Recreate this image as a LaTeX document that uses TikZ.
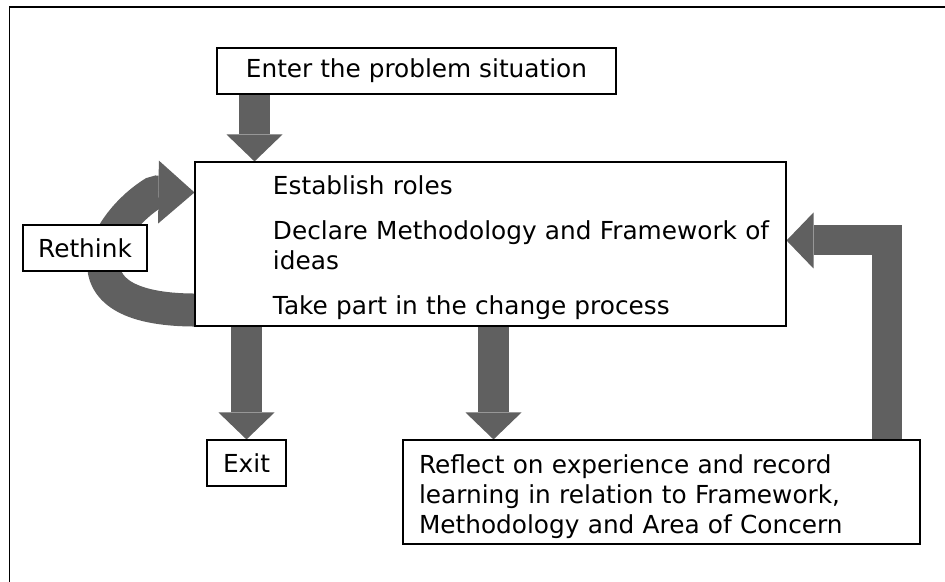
\documentclass[tikz,border=0pt]{standalone}
\usepackage{fontspec}
\setmainfont{DejaVu Sans}
\usetikzlibrary{calc, arrows.meta, backgrounds}
\definecolor{flowgray}{RGB}{96,96,96}

\begin{document}
\begin{tikzpicture}[
  box/.style={draw, line width=0.6pt, fill=white, inner sep=0pt},
  flow/.style={draw=flowgray, line width=0.62cm, line join=miter,
    -{Triangle[width=1.12cm, length=0.54cm, line width=0pt]}},
  every node/.style={font=\fontsize{14.1}{17}\selectfont}
]
\useasboundingbox (0,0) rectangle (18.9,11.64);
\draw[line width=0.8pt] (0.19,0) |- (18.9,11.5);

\node[box, minimum width=7.98cm, minimum height=0.92cm] (enter) at (8.33,10.22) {Enter the problem situation};
\node[box, minimum width=11.82cm, minimum height=3.28cm, text width=11.82cm, align=left] (main) at (9.81,6.76)
  {\leftskip=1.56cm \rule{0pt}{15.2pt}Establish roles\\[0.3cm]
   Declare Methodology and Framework of\\ ideas\\[0.3cm]
   Take part in the change process\par};
\node[box, minimum width=2.48cm, minimum height=0.92cm] (rethink) at (1.7,6.68) {Rethink};
\node[box, minimum width=1.58cm, minimum height=0.92cm] (exit) at (4.93,2.38) {Exit};
\node[box, text width=9.7cm, inner xsep=0.32cm, minimum height=2.08cm, align=left] (reflect) at (13.23,1.8)
  {\rule{0pt}{16.4pt}Reflect on experience and record\\
   learning in relation to Framework,\\
   Methodology and Area of Concern};

\coordinate (xin) at (5.09,0);
\coordinate (xref) at (9.87,0);
\coordinate (back) at (17.74,6.83);

\begin{scope}[on background layer]
\draw[flow] (enter.south -| xin) -- (main.north -| xin);
\draw[flow] (main.south -| exit.north) -- (exit.north);
\draw[flow] (main.south -| xref) -- (reflect.north -| xref);
\draw[flow, line width=0.6cm] (reflect.north -| back) |- (main.east |- back);
\draw[flow, line width=0.66cm, line join=bevel, -{Triangle[width=1.26cm, length=0.72cm, line width=0pt]}]
  ($(main.south west)+(0,0.33)$) .. controls (1.1,5.45) and (2.1,7.2) .. (3.1,7.8)
  -- ($(main.north west)+(0,-0.62)$);
\end{scope}
\end{tikzpicture}
\end{document}
